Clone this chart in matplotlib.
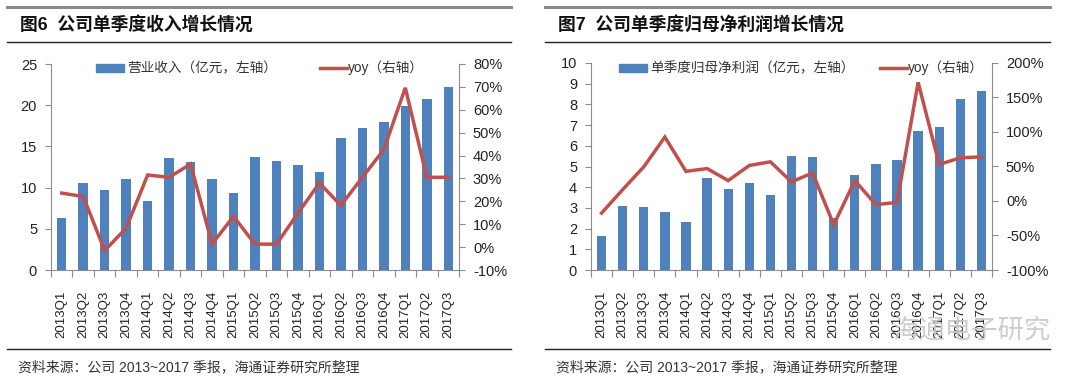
import matplotlib
matplotlib.use("Agg")
import matplotlib.pyplot as plt
from matplotlib.lines import Line2D
from matplotlib.patches import Rectangle
from matplotlib.ticker import FuncFormatter, MultipleLocator, FixedLocator

plt.rcParams['font.family'] = ['Liberation Sans', 'Noto Sans CJK SC', 'DejaVu Sans']

quarters = ["2013Q1", "2013Q2", "2013Q3", "2013Q4", "2014Q1", "2014Q2", "2014Q3", "2014Q4",
            "2015Q1", "2015Q2", "2015Q3", "2015Q4", "2016Q1", "2016Q2", "2016Q3", "2016Q4",
            "2017Q1", "2017Q2", "2017Q3"]

revenue = [6.35, 10.6, 9.75, 11.1, 8.4, 13.6, 13.1, 11.1, 9.4, 13.7, 13.2,
           12.7, 11.85, 16.05, 17.2, 17.95, 19.9, 20.8, 22.2]
revenue_yoy = [23.6, 22.1, -1.5, 8.3, 31.5, 30.5, 36.3, 1.4, 13.4, 1.3, 1.3,
               14.8, 28.0, 18.2, 30.5, 42.6, 69.6, 30.5, 30.5]

profit = [1.65, 3.1, 3.03, 2.79, 2.34, 4.44, 3.89, 4.19, 3.6, 5.53, 5.48,
          2.53, 4.58, 5.13, 5.32, 6.73, 6.92, 8.26, 8.66]
profit_yoy = [-17.5, 16.5, 49.5, 92.7, 43.0, 47.0, 29.6, 51.5, 56.8, 27.7, 40.8,
              -34.5, 29.6, -5.3, -2.0, 172.0, 53.0, 62.6, 64.0]

titles = ["图6  公司单季度收入增长情况", "图7  公司单季度归母净利润增长情况"]
bar_labels = ["营业收入（亿元，左轴）", "单季度归母净利润（亿元，左轴）"]
line_label = "yoy（右轴）"
source = "资料来源：公司 2013~2017 季报，海通证券研究所整理"
watermark = "海通电子研究"

W, H = 1080, 381
BLUE = "#4F81BD"
RED = "#C0504D"
SPINE = "#8c8c8c"
TXT = "#222222"

fig = plt.figure(figsize=(W / 100, H / 100), dpi=100)
fig.patch.set_facecolor("white")


def fx(x):
    return x / W


def fy(y):
    return 1 - y / H


def hline(x0, x1, y, color, lw):
    fig.add_artist(Line2D([fx(x0), fx(x1)], [fy(y), fy(y)], color=color, lw=lw,
                          transform=fig.transFigure))


def panel(px0, px1, ax_l, ax_r, ax_top, bars, yoy, left_lim, left_step, right_lim, right_step,
          title, bar_label, leg_bar_x, leg_line_x):
    # frame lines
    hline(px0, px1, 7, "#8a8a8a", 2.2)
    hline(px0, px1, 42, "#222222", 1.0)
    hline(px0, px1, 349, "#222222", 1.0)
    fig.text(fx(px0 + 13), fy(25), title, fontsize=12.8, fontweight="bold", color="#111111",
             va="center", ha="left")
    fig.text(fx(px0 + 11), fy(367), source, fontsize=10, color="#333333", va="center", ha="left")

    ax_bottom = 270
    ax = fig.add_axes([fx(ax_l), fy(ax_bottom), fx(ax_r - ax_l), (ax_bottom - ax_top) / H])
    x = list(range(len(quarters)))
    ax.bar(x, bars, width=0.44, color=BLUE, zorder=2)
    ax.set_xlim(-0.5, len(quarters) - 0.5)
    ax.set_ylim(*left_lim)
    ax.yaxis.set_major_locator(MultipleLocator(left_step))
    ax.set_xticks(x)
    ax.set_xticklabels(quarters, rotation=90, fontsize=9.5, color=TXT)
    ax.xaxis.set_minor_locator(FixedLocator([i - 0.5 for i in range(len(quarters) + 1)]))
    ax.tick_params(axis="x", which="major", length=0, pad=15)
    ax.tick_params(axis="x", which="minor", length=5, color=SPINE, width=0.8)
    ax.tick_params(axis="y", length=4, color=SPINE, width=0.8, labelsize=10.5, labelcolor=TXT, pad=6)
    for s in ["top", "right"]:
        ax.spines[s].set_visible(False)
    for s in ["left", "bottom"]:
        ax.spines[s].set_color(SPINE)
        ax.spines[s].set_linewidth(0.8)

    ax2 = ax.twinx()
    ax2.plot(x, yoy, color=RED, lw=2.5, zorder=3, solid_joinstyle="miter")
    ax2.set_ylim(*right_lim)
    ax2.yaxis.set_major_locator(MultipleLocator(right_step))
    ax2.yaxis.set_major_formatter(FuncFormatter(lambda v, p: f"{v:.0f}%"))
    ax2.tick_params(axis="y", length=4, color=SPINE, width=0.8, labelsize=10.5, labelcolor=TXT, pad=6)
    for s in ["top", "left", "bottom"]:
        ax2.spines[s].set_visible(False)
    ax2.spines["right"].set_color(SPINE)
    ax2.spines["right"].set_linewidth(0.8)

    # legend
    ly = 68
    fig.add_artist(Rectangle((fx(leg_bar_x), fy(ly + 3.5)), fx(28), 7 / H, color=BLUE,
                             transform=fig.transFigure))
    fig.text(fx(leg_bar_x + 31), fy(ly), bar_label, fontsize=9.8, color="#333333",
             va="center", ha="left")
    fig.add_artist(Line2D([fx(leg_line_x), fx(leg_line_x + 27)], [fy(ly), fy(ly)], color=RED,
                          lw=2.5, transform=fig.transFigure))
    fig.text(fx(leg_line_x + 28), fy(ly), line_label, fontsize=9.8, color="#333333",
             va="center", ha="left")
    return ax


panel(7, 511, 51, 459, 64, revenue, revenue_yoy, (0, 25), 5, (-10, 80), 10,
      titles[0], bar_labels[0], 96, 320)
panel(545, 1050, 591, 992, 63, profit, profit_yoy, (0, 10), 1, (-100, 200), 50,
      titles[1], bar_labels[1], 619, 880)

fig.text(fx(893), fy(330), watermark, fontsize=19, color="#c8c8c8", alpha=0.9,
         va="center", ha="left")

fig.savefig("out.png", dpi=100, facecolor="white")
